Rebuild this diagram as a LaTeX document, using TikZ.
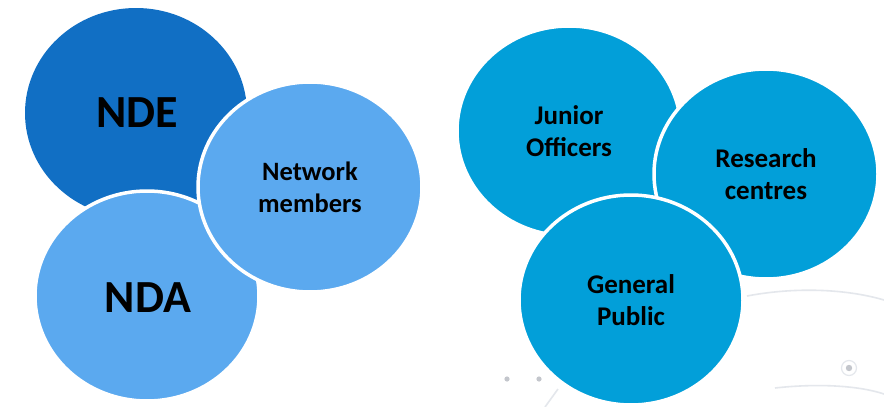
\documentclass[tikz,border=0pt]{standalone}
\usepackage{fontspec}
\setmainfont{Carlito}
\usetikzlibrary{shapes.geometric}
\definecolor{ndedark}{HTML}{116FC4}
\definecolor{ndalight}{HTML}{5BA9EF}
\definecolor{cyanblue}{HTML}{029FD9}
\definecolor{faint}{HTML}{E4E7EC}
\definecolor{dotgrey}{HTML}{C3C6CC}
\tikzset{
  bubble/.style={ellipse, draw=white, line width=3.5pt, inner sep=0pt,
    minimum width=224pt, minimum height=210pt, align=center,
    font=\bfseries\fontsize{27}{32}\selectfont},
  bigtxt/.style={font=\bfseries\fontsize{46}{52}\selectfont},
  deco/.style={draw=faint, line width=1.6pt}
}
\begin{document}
\begin{tikzpicture}[x=1pt,y=-1pt]
\useasboundingbox (0,0) rectangle (884,407);
\fill[white] (0,0) rectangle (884,407);
% faint background decoration
\draw[deco] (747,296) .. controls (800,286) and (850,290) .. (884,300);
\draw[deco] (775,388) .. controls (820,383) and (860,386) .. (884,394);
\draw[deco] (545,407) -- (558,389);
\fill[dotgrey] (507,379) circle (2.6);
\fill[dotgrey] (539,379) circle (2.6);
\draw[faint, line width=1.2pt] (849,368) circle (7.5);
\fill[dotgrey] (849,368) circle (3.2);
% left group
\node[bubble, fill=ndedark, draw=none, minimum width=222pt] (nde) at (136,113) {};
\node[bigtxt] (ndet) at (137,113) {NDE};
\node[bubble, fill=ndalight] (nda) at (147,296) {};
\node[bigtxt] (ndat) at (148,298) {NDA};
\node[bubble, fill=ndalight, font=\bfseries\fontsize{26.5}{32}\selectfont] (net) at (310,187) {Network\\members};
% right group
\node[bubble, fill=cyanblue] (jun) at (569,131) {Junior\\Officers};
\node[bubble, fill=cyanblue] (res) at (766,174) {Research\\centres};
\node[bubble, fill=cyanblue] (gen) at (631,300) {General\\Public};
\end{tikzpicture}
\end{document}
